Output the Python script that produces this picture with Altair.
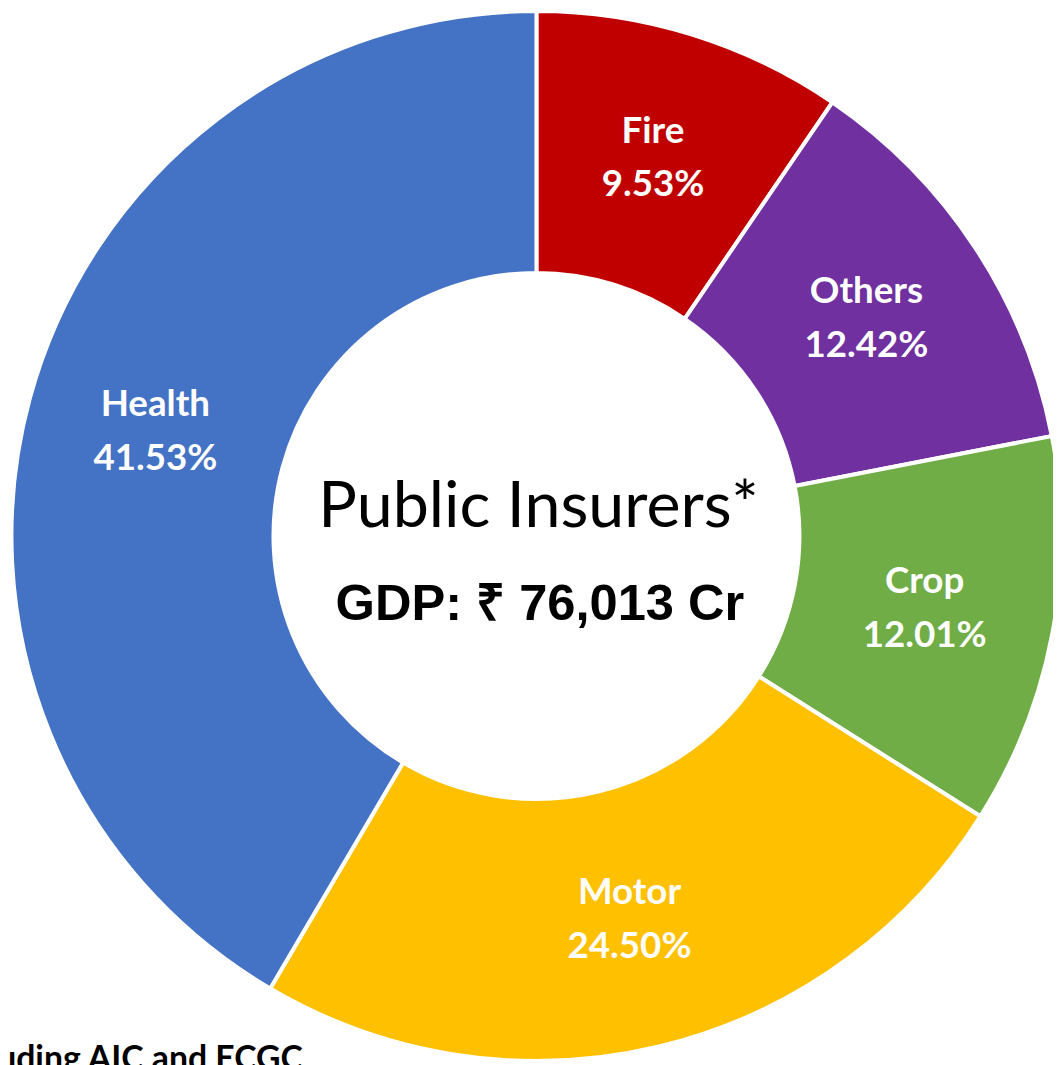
import altair as alt
import pandas as pd

categories = ["Fire", "Others", "Crop", "Motor", "Health"]
shares = [9.53, 12.42, 12.01, 24.50, 41.53]
colors = ["#C00000", "#7030A0", "#70AD47", "#FFC000", "#4472C4"]
title_text = "Public Insurers*"
subtitle_text = "GDP: \u20b9 76,013 Cr"
footnote_text = "*Excluding AIC and ECGC"

df = pd.DataFrame({
    "category": categories,
    "share": shares,
    "order": list(range(len(categories))),
    "label": [f"{c}\n{s:.2f}%" for c, s in zip(categories, shares)],
})

CX, CY = 532.5, 528

base = alt.Chart(df).encode(
    theta=alt.Theta("share:Q", stack=True),
    order=alt.Order("order:Q"),
    x=alt.value(CX),
    y=alt.value(CY),
)

arcs = base.mark_arc(outerRadius=529, innerRadius=265, stroke="white", strokeWidth=4).encode(
    color=alt.Color("category:N", scale=alt.Scale(domain=categories, range=colors), legend=None)
)

labels = base.mark_text(radius=398, font="Lato", fontWeight="bold", fontSize=37,
                        color="white", lineBreak="\n", lineHeight=54, dy=-27,
                        align="center", baseline="middle").encode(text="label:N")

t1 = alt.Chart(pd.DataFrame({"t": [title_text]})).mark_text(
    font="Lato", fontSize=65, color="black", align="center", baseline="alphabetic"
).encode(text="t:N", x=alt.value(534.5), y=alt.value(519))

t2 = alt.Chart(pd.DataFrame({"t": [subtitle_text]})).mark_text(
    font="Liberation Sans", fontWeight="bold", fontSize=51, color="black", align="center", baseline="alphabetic"
).encode(text="t:N", x=alt.value(536), y=alt.value(613))

t3 = alt.Chart(pd.DataFrame({"t": [footnote_text]})).mark_text(
    font="Lato", fontWeight="bold", fontSize=34, color="black", align="right", baseline="alphabetic"
).encode(text="t:N", x=alt.value(297), y=alt.value(1066))

chart = alt.layer(arcs, labels, t1, t2, t3).properties(
    width=1053, height=1057, autosize=alt.AutoSizeParams(type="none"), padding=0
).configure_view(stroke=None)

chart.save("out.html", embed_options={"renderer": "svg", "actions": False})
